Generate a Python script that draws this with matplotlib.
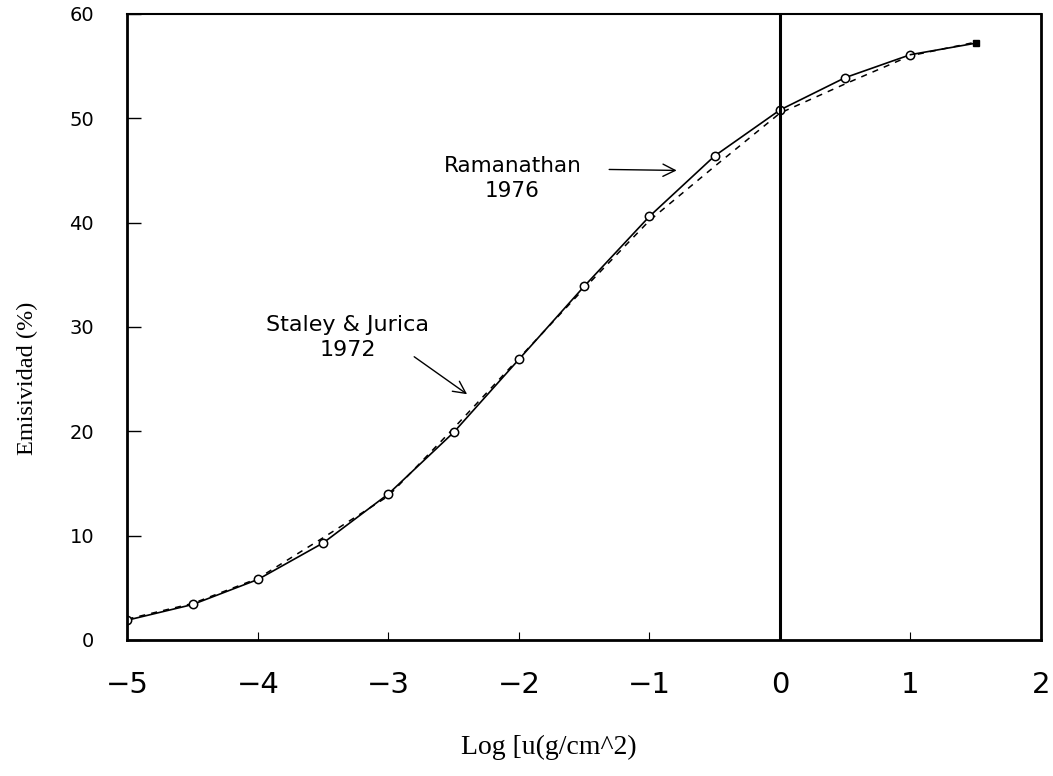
"""
Emisividad del vapor de agua vs log de la cantidad de agua precipitable.
Curvas de Ramanathan (1976) y Staley & Jurica (1972).
"""

import matplotlib
matplotlib.use("Agg")
import matplotlib.pyplot as plt

# log u (g/cm^2)
log_u = [-5.0, -4.5, -4.0, -3.5, -3.0, -2.5, -2.0, -1.5, -1.0, -0.5, 0.0, 0.5, 1.0, 1.5]

# Ramanathan 1976 (linea continua con marcadores)
ramanathan = [1.9, 3.4, 5.8, 9.3, 14.0, 19.9, 26.9, 33.9, 40.6, 46.4, 50.8, 53.9, 56.1, 57.2]

# Staley & Jurica 1972 (linea discontinua)
staley = [2.0, 3.5, 5.9, 9.8, 13.8, 20.3, 27.0, 33.7, 40.2, 45.4, 50.5, 53.3, 56.0, 57.3]

x_ticks = [-5, -4, -3, -2, -1, 0, 1, 2]
x_tick_labels = ["\u22125", "\u22124", "\u22123", "\u22122", "\u22121", "0", "1", "2"]
y_ticks = [0, 10, 20, 30, 40, 50, 60]


def main():
    fig = plt.figure(figsize=(10.53, 7.76), dpi=100)
    ax = fig.add_axes([0.121, 0.1753, 0.8676, 0.8067])

    # curvas
    ax.plot(log_u, staley, color="black", linewidth=1.1, linestyle=(0, (4, 4)))
    ax.plot(log_u[:-1], ramanathan[:-1], color="black", linewidth=1.2,
            marker="o", markersize=6, markerfacecolor="white", markeredgewidth=1.1)
    ax.plot(log_u[-2:], ramanathan[-2:], color="black", linewidth=1.2)
    ax.plot(log_u[-1], ramanathan[-1], color="black", marker="s", markersize=5)

    # linea vertical en log u = 0
    ax.axvline(0, color="black", linewidth=2.2)

    ax.set_xlim(-5, 2)
    ax.set_ylim(0, 60)

    ax.set_xticks(x_ticks)
    ax.set_xticklabels(x_tick_labels, fontsize=21, family="DejaVu Sans")
    ax.set_yticks(y_ticks)
    ax.set_yticklabels([str(v) for v in y_ticks], fontsize=14, family="DejaVu Sans")
    ax.tick_params(axis="x", direction="in", length=6, width=0.8, pad=22)
    ax.tick_params(axis="y", direction="in", length=10, width=1.0, pad=24)

    for side in ["left", "bottom", "right"]:
        ax.spines[side].set_linewidth(2.0)
    ax.spines["top"].set_linewidth(1.5)

    # etiquetas de ejes (serif)
    fig.text(0.521, 0.02, "Log [u(g/cm^2)", fontsize=20,
             family="Liberation Serif", ha="center", va="bottom")
    fig.text(0.026, 0.512, "Emisividad (%)", fontsize=17.5,
             family="Liberation Serif", rotation=90, ha="center", va="center")

    # anotaciones
    ax.text(-2.05, 44.2, "Ramanathan\n1976", fontsize=15.5, ha="center", va="center",
            linespacing=1.3)
    ax.annotate("", xy=(-0.77, 45.0), xytext=(-1.33, 45.1),
                arrowprops=dict(arrowstyle="->", color="black", lw=1.0,
                                mutation_scale=22))
    ax.text(-3.31, 29.0, "Staley & Jurica\n1972", fontsize=16, ha="center", va="center",
            linespacing=1.3)
    ax.annotate("", xy=(-2.38, 23.4), xytext=(-2.82, 27.3),
                arrowprops=dict(arrowstyle="->", color="black", lw=1.0,
                                mutation_scale=22))

    fig.savefig("out.png", dpi=100)


if __name__ == "__main__":
    main()
